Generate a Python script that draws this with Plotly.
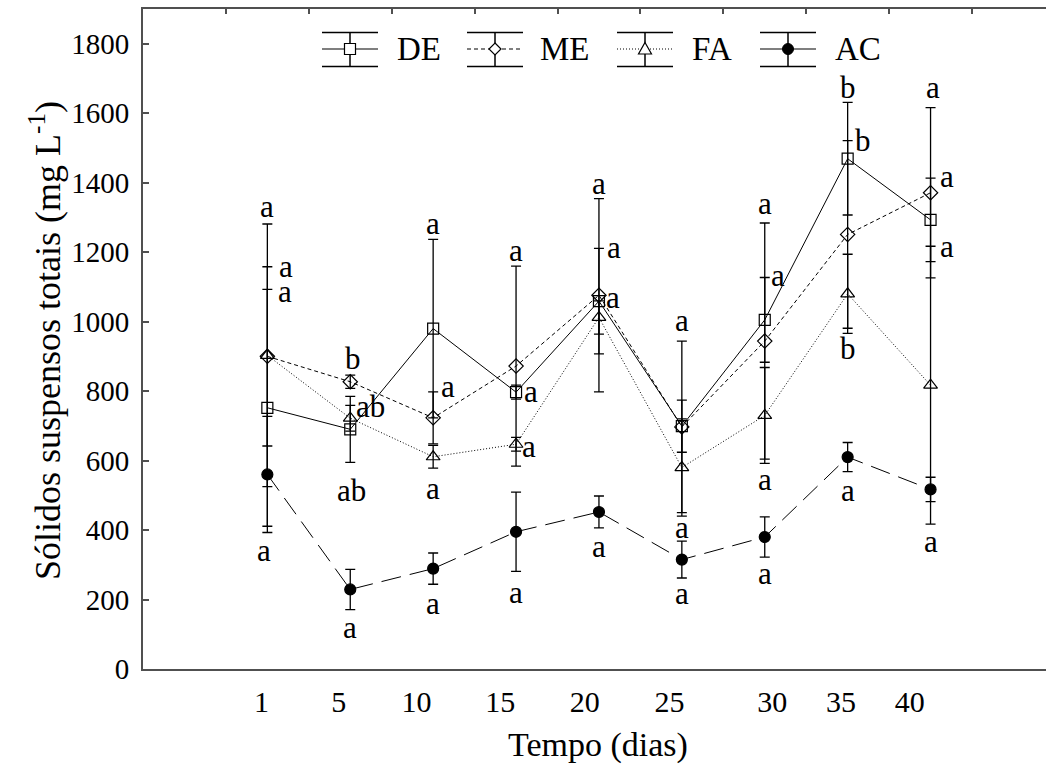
import plotly.graph_objects as go

# ---------------- data ----------------
days = [1, 5, 10, 15, 20, 25, 30, 35, 40]

de_mean = [752, 690, 980, 797, 1059, 699, 1005, 1469, 1293]
de_sd   = [341, 95, 257, 20, 152, 75, 122, 162, 120]
me_mean = [900, 827, 723, 872, 1076, 697, 944, 1251, 1371]
me_sd   = [258, 19, 75, 288, 278, 247, 340, 270, 245]
fa_mean = [903, 722, 611, 647, 1012, 580, 730, 1080, 817]
fa_sd   = [378, 37, 33, 20, 48, 140, 138, 114, 400]
ac_mean = [560, 229, 289, 395, 452, 315, 380, 610, 517]
ac_sd   = [167, 58, 45, 114, 46, 53, 58, 42, 35]

series_names = ["DE", "ME", "FA", "AC"]

# significance letters: (sampling index, letter, y value, x offset px)
letter_idx  = [0, 0, 0, 0, 1, 1, 1, 1, 2, 2, 2, 2, 3, 3, 3, 3, 4, 4, 4, 4,
               5, 5, 5, 6, 6, 6, 6, 7, 7, 7, 7, 8, 8, 8, 8]
letter_text = ["a", "a", "a", "a", "b", "ab", "ab", "a", "a", "a", "a", "a",
               "a", "a", "a", "a", "a", "a", "a", "a", "a", "a", "a",
               "a", "a", "a", "a", "b", "b", "b", "a", "a", "a", "a", "a"]
letter_y    = [1322, 1149, 1077, 333, 892, 753, 511, 112, 1274, 804, 511, 181,
               1197, 789, 631, 213, 1389, 1205, 1060, 343, 996, 400, 208,
               1331, 1125, 537, 266, 1672, 1519, 919, 506, 1665, 1408, 1209, 357]
letter_dx   = [0, 19, 18, -3, 3, 20, 1, 0, 0, 15, 0, 0, 0, 15, 13, 0, 0, 15, 14, 0,
               0, 0, 0, 0, 13, 0, 0, 0, 15, 0, 0, 2, 16, 16, 0]

# ---------------- layout helpers ----------------
FONT = "Times New Roman, Liberation Serif, DejaVu Serif, serif"
X_OFFSET = 1.5          # first sample sits half a unit after first top tick
xpos = [i + X_OFFSET for i in range(len(days))]
tick_label_pos = [1.43, 2.36, 3.30, 4.31, 5.33, 6.35, 7.59, 8.42, 9.25]

L, R, T, B = 143, 0, 9, 100
W, H = 1046, 769
PW, PH = W - L - R, H - T - B


def pxx(xp):
    return (xp - L) / PW


def pxy(yp):
    return (H - B - yp) / PH


fig = go.Figure()

styles = [
    dict(mean=de_mean, sd=de_sd, dash="solid", symbol="square-open", size=11),
    dict(mean=me_mean, sd=me_sd, dash="4px,3px", symbol="diamond-open", size=11),
    dict(mean=fa_mean, sd=fa_sd, dash="1px,2px", symbol="triangle-up-open", size=12),
    dict(mean=ac_mean, sd=ac_sd, dash="20px,9px", symbol="circle", size=11),
]

for name, st in zip(series_names, styles):
    fig.add_trace(go.Scatter(
        x=xpos, y=st["mean"], name=name, mode="lines+markers",
        line=dict(color="black", width=1, dash=st["dash"]),
        marker=dict(symbol=st["symbol"], size=st["size"], color="black",
                    line=dict(color="black", width=1.2)),
        error_y=dict(type="data", array=st["sd"], visible=True,
                     color="black", thickness=1.3, width=5),
        showlegend=False,
    ))

# invisible trace on top axis so that it is drawn
fig.add_trace(go.Scatter(x=[0], y=[0], xaxis="x2", mode="markers",
                         marker=dict(opacity=0), showlegend=False,
                         hoverinfo="skip"))

annotations = []
for i, t, yv, dx in zip(letter_idx, letter_text, letter_y, letter_dx):
    annotations.append(dict(
        x=xpos[i], y=yv, xref="x", yref="y", text=t, showarrow=False,
        xshift=dx, yshift=3 if t == "a" else 1,
        font=dict(family=FONT, size=31, color="black"),
        xanchor="center", yanchor="middle"))

# axis titles
annotations.append(dict(
    x=pxx(45), y=pxy(341), xref="paper", yref="paper",
    text="Sólidos suspensos totais (mg L<sup>-1</sup>)", textangle=-90,
    showarrow=False, font=dict(family=FONT, size=36, color="black"),
    xanchor="center", yanchor="middle"))
annotations.append(dict(
    x=pxx(598), y=pxy(745), xref="paper", yref="paper",
    text="Tempo (dias)", showarrow=False,
    font=dict(family=FONT, size=34, color="black"),
    xanchor="center", yanchor="middle"))

# ---------------- custom legend (error-bar style keys) ----------------
shapes = []
leg_cx = [350, 495, 645, 788]
leg_tx = [395, 538, 690, 833]
y_top, y_mid, y_bot, hw = 32.5, 49, 66.5, 28
for k, (name, st) in enumerate(zip(series_names, styles)):
    cx = leg_cx[k]
    for yy in (y_top, y_bot):
        shapes.append(dict(type="line", xref="paper", yref="paper",
                           x0=pxx(cx - hw), x1=pxx(cx + hw), y0=pxy(yy), y1=pxy(yy),
                           line=dict(color="black", width=1.5)))
    shapes.append(dict(type="line", xref="paper", yref="paper",
                       x0=pxx(cx), x1=pxx(cx), y0=pxy(y_top), y1=pxy(y_bot),
                       line=dict(color="black", width=1.5)))
    shapes.append(dict(type="line", xref="paper", yref="paper",
                       x0=pxx(cx - hw), x1=pxx(cx + hw), y0=pxy(y_mid), y1=pxy(y_mid),
                       line=dict(color="black", width=1.2,
                                 dash="solid" if k in (0, 3) else st["dash"])))
    if k == 0:
        shapes.append(dict(type="rect", xref="paper", yref="paper",
                           x0=pxx(cx - 5.5), x1=pxx(cx + 5.5),
                           y0=pxy(y_mid + 5.5), y1=pxy(y_mid - 5.5),
                           fillcolor="white", line=dict(color="black", width=1.2)))
    elif k == 1:
        p = (f"M {pxx(cx)} {pxy(y_mid-6)} L {pxx(cx+6)} {pxy(y_mid)} "
             f"L {pxx(cx)} {pxy(y_mid+6)} L {pxx(cx-6)} {pxy(y_mid)} Z")
        shapes.append(dict(type="path", xref="paper", yref="paper", path=p,
                           fillcolor="white", line=dict(color="black", width=1.2)))
    elif k == 2:
        p = (f"M {pxx(cx)} {pxy(y_mid-6.5)} L {pxx(cx+6.5)} {pxy(y_mid+5)} "
             f"L {pxx(cx-6.5)} {pxy(y_mid+5)} Z")
        shapes.append(dict(type="path", xref="paper", yref="paper", path=p,
                           fillcolor="white", line=dict(color="black", width=1.2)))
    else:
        shapes.append(dict(type="circle", xref="paper", yref="paper",
                           x0=pxx(cx - 5.5), x1=pxx(cx + 5.5),
                           y0=pxy(y_mid + 5.5), y1=pxy(y_mid - 5.5),
                           fillcolor="black", line=dict(color="black", width=1)))
    annotations.append(dict(
        x=pxx(leg_tx[k]), y=pxy(y_mid), xref="paper", yref="paper",
        text=name, showarrow=False,
        font=dict(family=FONT, size=33, color="black"),
        xanchor="left", yanchor="middle"))

XMAX = (W - L) / 82.9
AXIS_COLOR = "#505050"

fig.update_layout(
    width=W, height=H,
    margin=dict(l=L, r=R, t=T, b=B, pad=0),
    paper_bgcolor="white", plot_bgcolor="white",
    font=dict(family=FONT, color="black"),
    xaxis=dict(range=[0, XMAX], tickvals=tick_label_pos,
               ticktext=[str(d) for d in days], ticks="",
               showgrid=False, zeroline=False, showline=True,
               linecolor=AXIS_COLOR, linewidth=2,
               tickfont=dict(family=FONT, size=30, color="black"),
               ticklabelstandoff=5),
    xaxis2=dict(range=[0, XMAX], overlaying="x", side="top",
                tickvals=list(range(1, 11)), ticks="inside", ticklen=5,
                tickwidth=1.5, tickcolor=AXIS_COLOR,
                showticklabels=False, showgrid=False, zeroline=False,
                showline=True, linecolor=AXIS_COLOR, linewidth=2),
    yaxis=dict(range=[0, 1900], tickvals=list(range(0, 1801, 200)),
               ticks="inside", ticklen=6, tickwidth=1.5, tickcolor=AXIS_COLOR,
               showgrid=False, zeroline=False, showline=True,
               linecolor=AXIS_COLOR, linewidth=2,
               tickfont=dict(family=FONT, size=29, color="black"),
               ticklabelstandoff=6),
    annotations=annotations,
    shapes=shapes,
    showlegend=False,
)

fig.write_html("out.html")
